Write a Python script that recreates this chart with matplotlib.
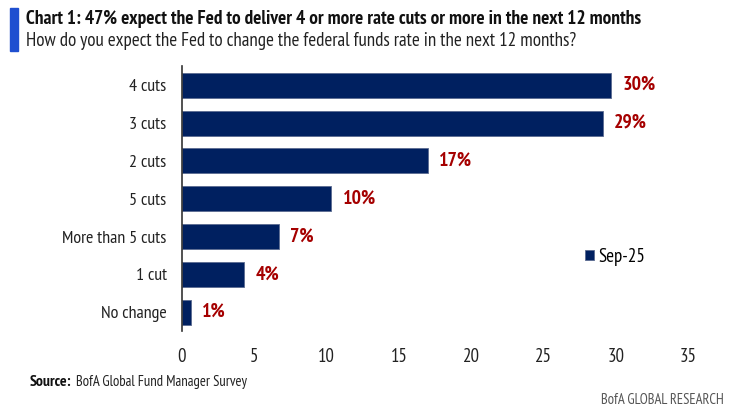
import matplotlib
matplotlib.use("Agg")
import matplotlib.pyplot as plt
from matplotlib import font_manager as fm
from matplotlib.patches import Rectangle

categories = ["4 cuts", "3 cuts", "2 cuts", "5 cuts", "More than 5 cuts", "1 cut", "No change"]
values = [29.7, 29.1, 17.0, 10.3, 6.7, 4.3, 0.6]
labels = ["30%", "29%", "17%", "10%", "7%", "4%", "1%"]
xticks = [0, 5, 10, 15, 20, 25, 30, 35]
series_name = "Sep-25"

names = {f.name for f in fm.fontManager.ttflist}
fam = "DejaVu Sans"
for cand in ["PT Sans Narrow", "Roboto Condensed", "Archivo Narrow", "Asap Condensed", "Encode Sans Condensed"]:
    if cand in names:
        fam = cand
        break
plt.rcParams["font.family"] = [fam, "DejaVu Sans"]

navy = "#002060"
red = "#A50000"
W, H = 752, 417

fig = plt.figure(figsize=(7.52, 4.17), dpi=100)
ax = fig.add_axes([182 / W, 0.206, 506 / W, 0.635])
r = fig.canvas.get_renderer()

def width_at(text, size, weight="normal"):
    t = fig.text(0, 0, text, fontsize=size, fontweight=weight)
    w = t.get_window_extent(r).width
    t.remove()
    return w

leg_fs = 10 * 47 / width_at(series_name, 10)

ypos = list(range(len(categories)))
ax.barh(ypos, values, height=0.66, color=navy, edgecolor="#5a6a90", linewidth=0.6, label=series_name)
ax.set_ylim(len(categories) - 0.5, -0.5)
ax.set_xlim(0, 35)
ax.set_xticks(xticks)
ax.set_xticklabels([str(t) for t in xticks], fontsize=13, color="#222222")
ax.set_yticks(ypos)
ax.set_yticklabels(categories, fontsize=13, color="#222222")
ax.tick_params(axis="both", length=0)
ax.tick_params(axis="y", pad=11)
ax.tick_params(axis="x", pad=12)
for s in ["top", "right", "bottom"]:
    ax.spines[s].set_visible(False)
ax.spines["left"].set_color("#333333")
ax.spines["left"].set_linewidth(1.2)

pct_texts = []
for y, v, lab in zip(ypos, values, labels):
    pct_texts.append(ax.text(v + 0.8, y, lab, va="center", ha="left", fontsize=14,
                             fontweight="bold", color=red))

hs = 6.5 / leg_fs
leg = ax.legend(loc="center left", bbox_to_anchor=(585 / W, 1 - 257 / H), bbox_transform=fig.transFigure,
                frameon=False, fontsize=leg_fs, handlelength=hs, handleheight=hs, handletextpad=0.25,
                borderpad=0, borderaxespad=0)

# Title block
fig.patches.append(Rectangle((10 / W, 1 - 51 / H), 8 / W, 43 / H, transform=fig.transFigure,
                             color="#1f4fd0", zorder=5))
t1 = fig.text(26 / W, 1 - 19 / H, "Chart 1: 47% expect the Fed to deliver 4 or more rate cuts or more in the next 12 months",
              fontsize=14, fontweight="bold", color="#111111", va="center", ha="left")
t2 = fig.text(26 / W, 1 - 41 / H, "How do you expect the Fed to change the federal funds rate in the next 12 months?",
              fontsize=14, color="#222222", va="center", ha="left")
s1 = fig.text(30 / W, 1 - 382 / H, "Source:", fontsize=10, fontweight="bold", color="#111111", va="center", ha="left")
s2 = fig.text(76 / W, 1 - 382 / H, "BofA Global Fund Manager Survey", fontsize=10, color="#222222", va="center", ha="left")
s3 = fig.text(724 / W, 1 - 400 / H, "BofA GLOBAL RESEARCH", fontsize=10, color="#555555", va="center", ha="right")

fig.canvas.draw()
r = fig.canvas.get_renderer()

def fit(t, target):
    w = t.get_window_extent(r).width
    t.set_fontsize(t.get_fontsize() * target / w)

fit(t1, 615)
fit(t2, 554)
fit(s1, 42)
fit(s2, 172)
fit(s3, 124)
more = [lbl for lbl in ax.get_yticklabels() if lbl.get_text() == "More than 5 cuts"][0]
w = more.get_window_extent(r).width
ysz = 13 * 104 / w
for lbl in ax.get_yticklabels():
    lbl.set_fontsize(ysz)
w = pct_texts[0].get_window_extent(r).width
psz = 14 * 33 / w
for t in pct_texts:
    t.set_fontsize(psz)
for lbl in ax.get_xticklabels():
    lbl.set_fontsize(ysz * 1.05)

fig.savefig("out.png", dpi=100, facecolor="white")
